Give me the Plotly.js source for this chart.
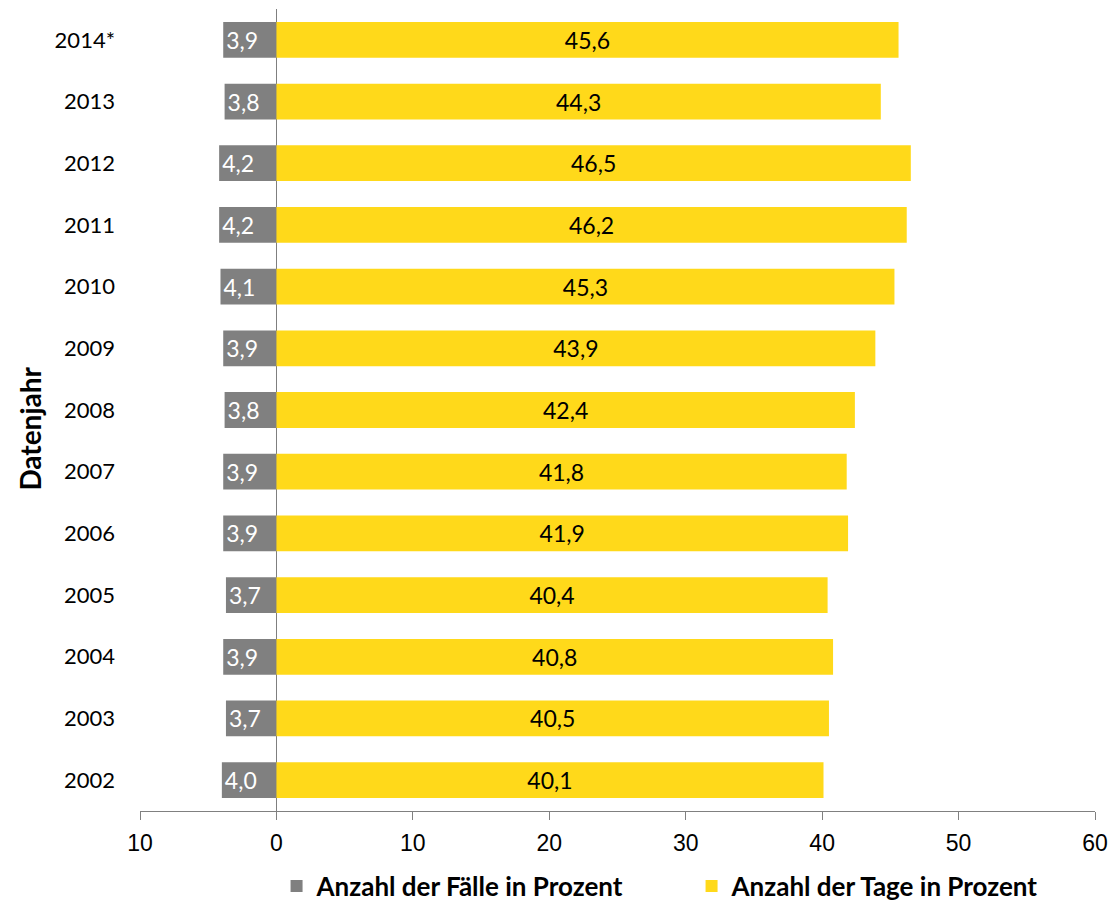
<!DOCTYPE html>
<html>
<head>
<meta charset="utf-8">
<script src="https://cdn.plot.ly/plotly-3.0.1.min.js"></script>
<style>html,body{margin:0;padding:0;background:#fff;width:1117px;height:902px;overflow:hidden;}#chart{width:1117px;height:930px;}</style>
</head>
<body>
<div id="chart"></div>
<script>
const years = ["2014*","2013","2012","2011","2010","2009","2008","2007","2006","2005","2004","2003","2002"];
const faelle = [3.9,3.8,4.2,4.2,4.1,3.9,3.8,3.9,3.9,3.7,3.9,3.7,4.0];
const tage = [45.6,44.3,46.5,46.2,45.3,43.9,42.4,41.8,41.9,40.4,40.8,40.5,40.1];
const xTickVals = [-10,0,10,20,30,40,50,60];
const xTickText = ["10","0","10","20","30","40","50","60"];
const seriesNames = ["Anzahl der Fälle in Prozent","Anzahl der Tage in Prozent"];
const yTitle = "Datenjahr";

const fmt = v => v.toFixed(1).replace('.', ',');
const lblFont = "Lato, 'Open Sans', sans-serif";

const traces = [
  {
    type: 'bar', orientation: 'h', name: seriesNames[0],
    y: years, x: faelle.map(v => -v),
    text: faelle.map(fmt), textposition: 'inside', insidetextanchor: 'end',
    textangle: 0, constraintext: 'none',
    insidetextfont: {family: lblFont, size: 23, color: '#ffffff'},
    marker: {color: '#808080'}, width: 0.58, hoverinfo: 'none'
  },
  {
    type: 'bar', orientation: 'h', name: seriesNames[1],
    y: years, x: tage,
    text: tage.map(fmt), textposition: 'inside', insidetextanchor: 'middle',
    textangle: 0, constraintext: 'none',
    insidetextfont: {family: lblFont, size: 23, color: '#000000'},
    marker: {color: '#FFD91A'}, width: 0.58, hoverinfo: 'none'
  }
];

const layout = {
  width: 1117, height: 930,
  margin: {l: 140, r: 22, t: 9, b: 119},
  paper_bgcolor: '#ffffff', plot_bgcolor: '#ffffff',
  barmode: 'relative',
  showlegend: true,
  legend: {
    orientation: 'h', x: 0.143, xanchor: 'left', y: -0.123, yanchor: 'bottom',
    font: {family: lblFont, size: 26, color: '#000000', weight: 'bold'},
    entrywidth: 370, entrywidthmode: 'pixels', traceorder: 'normal',
    bgcolor: 'rgba(0,0,0,0)'
  },
  annotations: [{
    text: yTitle, xref: 'paper', yref: 'paper', x: -0.115, y: 0.477,
    xanchor: 'center', yanchor: 'middle', textangle: -90, showarrow: false,
    font: {family: lblFont, size: 28, color: '#000000', weight: 'bold'}
  }],
  xaxis: {
    range: [-10, 60], tickvals: xTickVals, ticktext: xTickText,
    showgrid: false, zeroline: true, zerolinecolor: '#7f7f7f', zerolinewidth: 1,
    showline: true, linecolor: '#808080', linewidth: 1,
    ticks: 'outside', ticklen: 8, tickcolor: '#808080',
    ticklabelstandoff: 3,
    tickfont: {family: "'Liberation Sans', Arial, sans-serif", size: 23, color: '#000000'},
    layer: 'above traces', fixedrange: true
  },
  yaxis: {
    type: 'category', autorange: 'reversed',
    showgrid: false, zeroline: false, showline: false, ticks: '',
    ticklabelstandoff: 24,
    tickfont: {family: lblFont, size: 22, color: '#000000'},
    fixedrange: true
  }
};

Plotly.newPlot('chart', traces, layout, {displayModeBar: false, staticPlot: true});
</script>
</body>
</html>
